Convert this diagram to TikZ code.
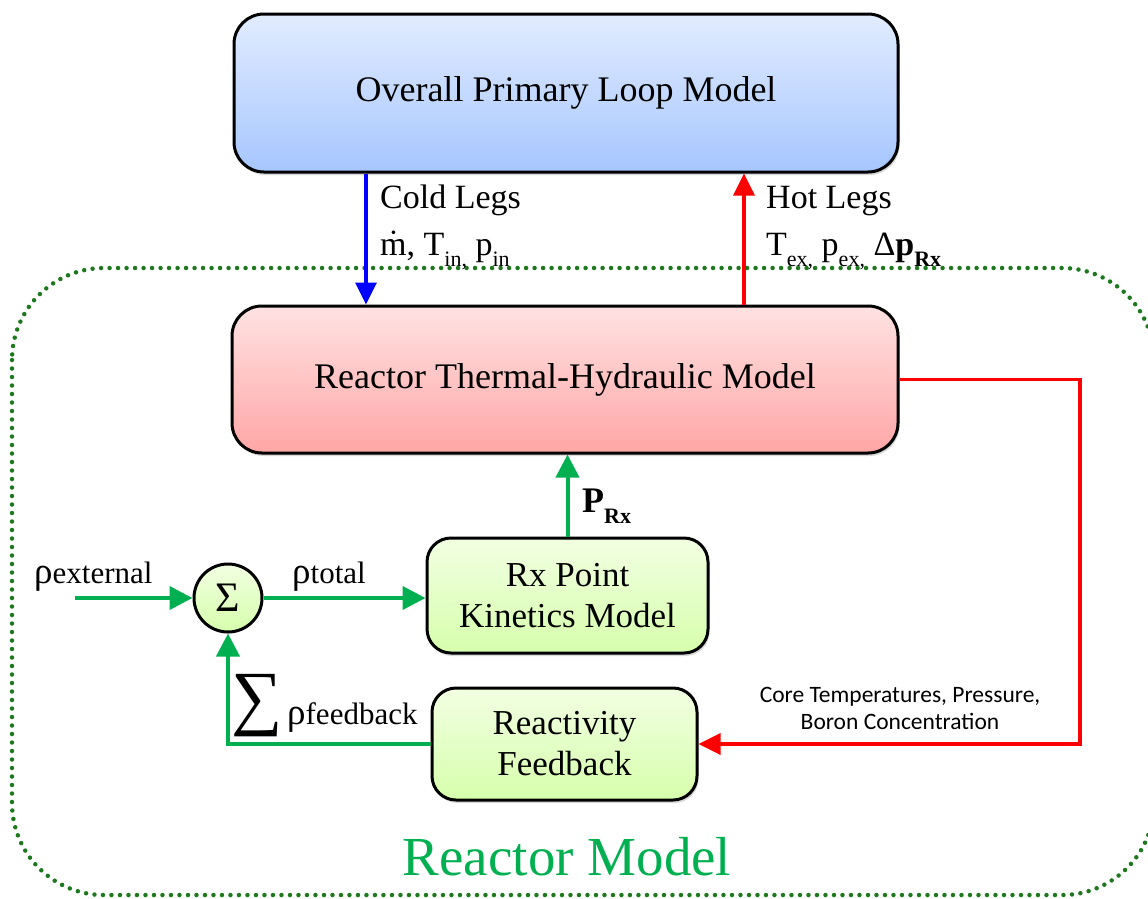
\documentclass[tikz,border=0pt]{standalone}
\usepackage{fontspec}
\setmainfont{Liberation Serif}
\newfontfamily\calfont{Carlito}
\usetikzlibrary{arrows.meta,shadows}

\definecolor{gline}{RGB}{0,176,80}
\definecolor{gdot}{RGB}{30,120,30}
\definecolor{rline}{RGB}{255,0,0}
\definecolor{bline}{RGB}{0,0,255}

% subscript helper: smaller text, dropped below the baseline
\newcommand\lowsub[1]{\raisebox{-11pt}{\fontsize{22}{22}\selectfont #1}}
% m with a dot above (mass flow rate)
\newcommand\mdotsym{\ooalign{m\cr\hidewidth\raisebox{2pt}{\char"02D9}\hidewidth\cr}}
% rho followed by a descriptive suffix
\newcommand\rholab[1]{{\fontsize{37}{37}\selectfont ρ}{\fontsize{31}{31}\selectfont #1}}

\begin{document}
\begin{tikzpicture}[x=1pt,y=-1pt,
  block/.style={draw=black, line width=3pt, align=center, inner sep=0pt,
    drop shadow={opacity=0.3, shadow xshift=1.5pt, shadow yshift=-3pt}},
  bluebox/.style={block, rounded corners=30pt, top color={rgb,255:red,226;green,236;blue,255}, bottom color={rgb,255:red,166;green,198;blue,255}},
  pinkbox/.style={block, rounded corners=30pt, top color={rgb,255:red,255;green,226;blue,226}, bottom color={rgb,255:red,255;green,166;blue,166}},
  greenbox/.style={block, rounded corners=24pt, top color={rgb,255:red,242;green,255;blue,226}, bottom color={rgb,255:red,214;green,255;blue,172}},
  bigtext/.style={font=\fontsize{36}{40}\selectfont},
  midtext/.style={font=\fontsize{35}{41}\selectfont},
  garrow/.style={draw=gline, line width=4pt, -{Triangle[length=23pt,width=23pt]}},
  rarrow/.style={draw=rline, line width=3.5pt, -{Triangle[length=22pt,width=21pt]}},
  barrow/.style={draw=bline, line width=3.5pt, -{Triangle[length=22pt,width=21pt]}},
  lbl/.style={inner sep=0pt, anchor=base west, font=\fontsize{34}{34}\selectfont},
]
\useasboundingbox (0,0) rectangle (1148,898);

% dotted outline of the reactor model
\draw[gdot, line width=4.5pt, line cap=round, dash pattern=on 0pt off 8.5pt, rounded corners=92pt]
  (12,268) rectangle (1154,895);
\node[text=gline, font=\fontsize{55}{55}\selectfont] (rmlab) at (567,857) {Reactor Model};

% blocks
\node[bluebox, bigtext, minimum width=664pt, minimum height=158pt] (plm) at (566,93) {Overall Primary Loop Model};
\node[pinkbox, bigtext, minimum width=666pt, minimum height=147pt] (thm) at (565,379.5) {Reactor Thermal-Hydraulic Model};
\node[greenbox, midtext, minimum width=281pt, minimum height=115pt] (rx) at (567.5,595.5) {Rx Point\\Kinetics Model};
\node[greenbox, midtext, minimum width=265pt, minimum height=112pt] (rf) at (564.5,744) {Reactivity\\Feedback};
\node[circle, draw=black, line width=3pt, minimum size=68pt, inner sep=0pt,
  top color={rgb,255:red,242;green,255;blue,226}, bottom color={rgb,255:red,214;green,255;blue,172},
  font=\fontsize{42}{42}\selectfont] (sum) at (228,598) {Σ};

% primary loop coupling
\coordinate (xcold) at (366,0);
\coordinate (xhot) at (744,0);
\draw[barrow] (xcold |- plm.south) -- (xcold |- thm.north);
\draw[rarrow] (xhot |- thm.north) -- (xhot |- plm.south);
\node[lbl] (cl1) at (380,208) {Cold Legs};
\node[lbl] (cl2) at (380,255) {\mdotsym, T\lowsub{in,} p\lowsub{in}};
\node[lbl] (hl1) at (766,208) {Hot Legs};
\node[lbl] (hl2) at (766,255) {T\lowsub{ex,} p\lowsub{ex,} Δ\textbf{p}\lowsub{\textbf{Rx}}};

% core conditions to the feedback model
\coordinate (rc) at (1080,744);
\draw[rarrow] (thm.east) -| (rc) -- (rf.east);
\node[font=\calfont\fontsize{23.5}{27}\selectfont, align=center, inner sep=0pt] (core) at (900,708)
  {Core Temperatures, Pressure,\\Boron Concentration};

% power to the thermal-hydraulic model
\draw[garrow] (rx.north) -- (rx.north |- thm.south);
\node[lbl, font=\fontsize{36}{36}\selectfont\bfseries] (prx) at (582,512) {P\lowsub{\textbf{Rx}}};

% reactivity loop
\coordinate (ext) at (75,598);
\draw[garrow] (ext) -- (sum.west);
\draw[garrow] (sum.east) -- (sum.east -| rx.west);
\draw[garrow] (rf.west) -| (sum.south);
\node[lbl] (rext) at (34,583) {\rholab{external}};
\node[lbl] (rtot) at (292,583) {\rholab{total}};
\node[inner sep=0pt, font=\fontsize{72}{72}\selectfont] (sigfb) at (257,706) {∑};
\node[lbl] (rfb) at (287,724) {\rholab{feedback}};
\end{tikzpicture}
\end{document}
